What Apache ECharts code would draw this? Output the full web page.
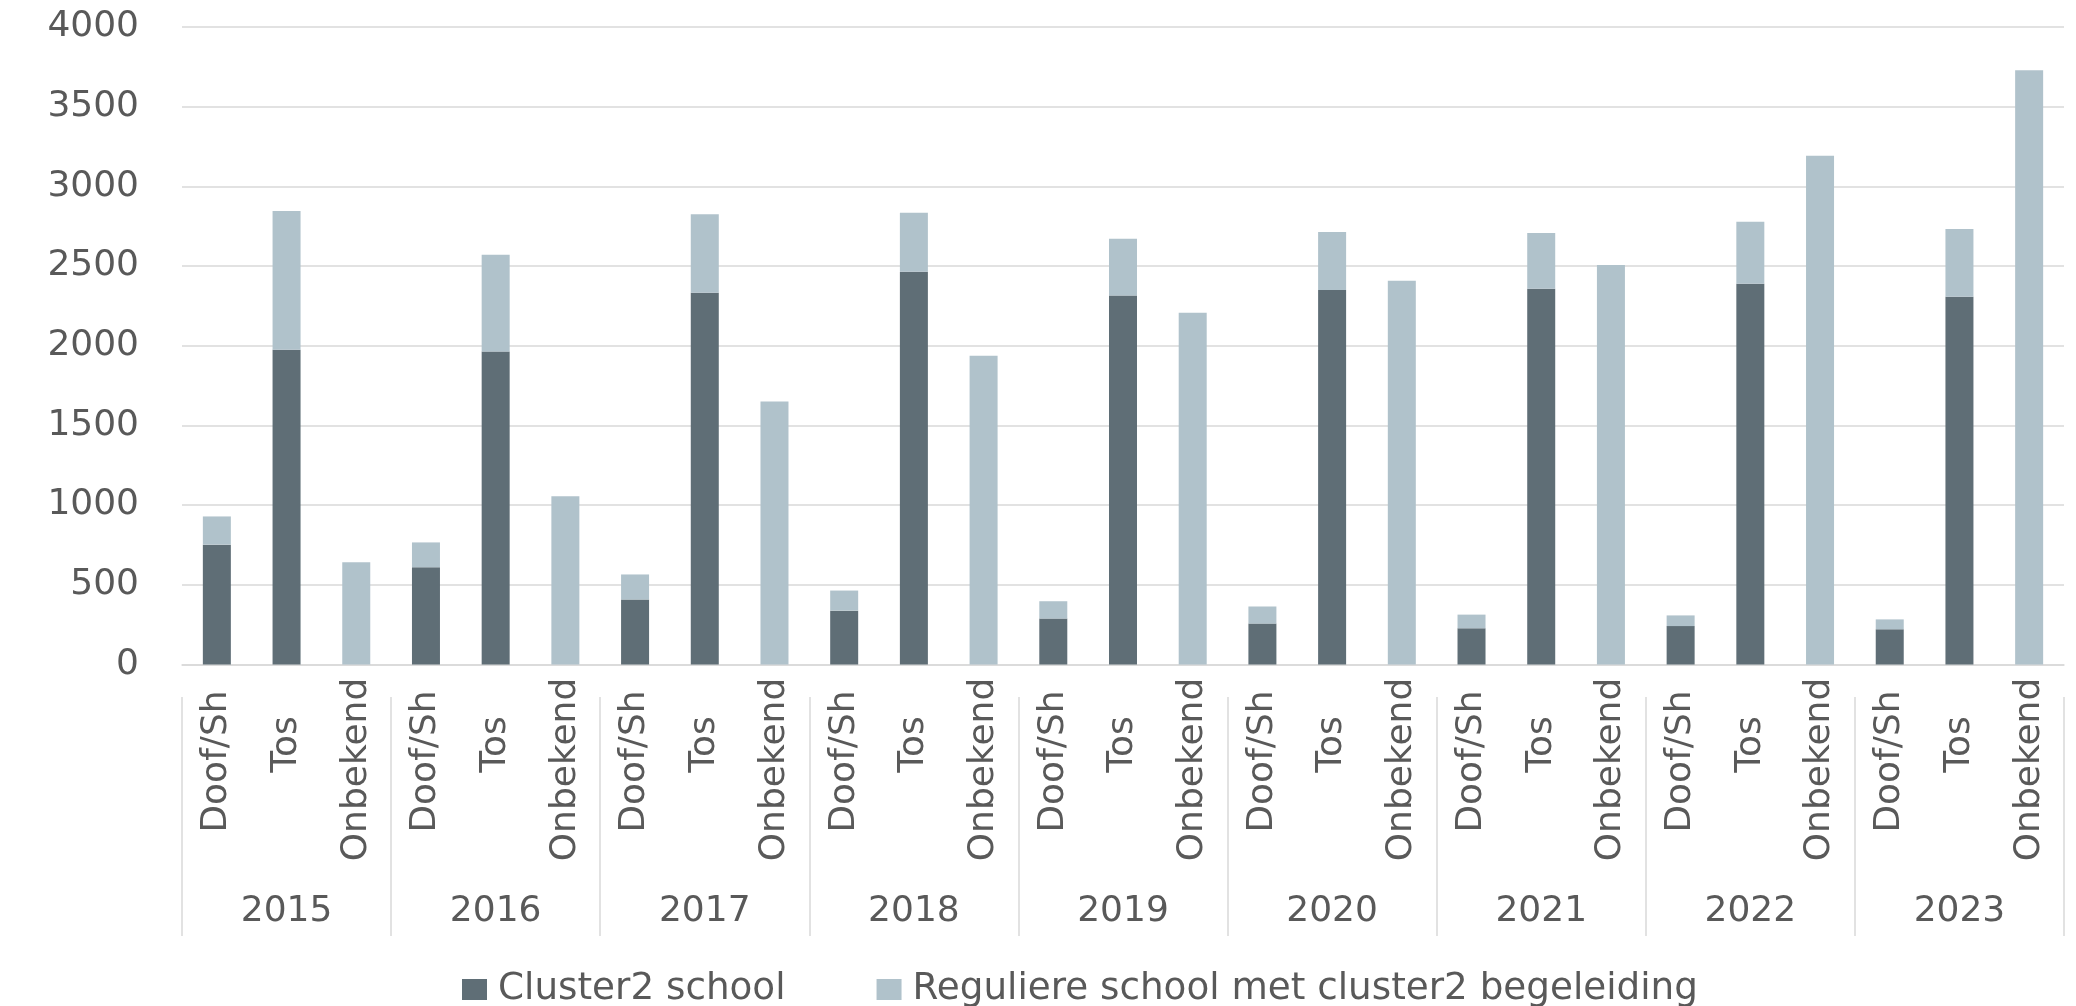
<!DOCTYPE html>
<html>
<head>
<meta charset="utf-8">
<script src="https://cdn.jsdelivr.net/npm/echarts@6/dist/echarts.min.js"></script>
<style>
html,body{margin:0;padding:0;background:#fff;}
#chart{width:2076px;height:1006px;}
</style>
</head>
<body>
<div id="chart"></div>
<script>
const years = ['2015','2016','2017','2018','2019','2020','2021','2022','2023'];
const types = ['Doof/Sh','Tos','Onbekend'];
const seriesNames = ['Cluster2 school','Reguliere school met cluster2 begeleiding'];
// per year: Doof/Sh, Tos, Onbekend
const cluster2School = [752,1975,0, 610,1964,0, 408,2333,0, 338,2464,0, 288,2316,0, 257,2350,0, 227,2358,0, 241,2389,0, 221,2308,0];
const reguliereSchool = [177,870,641, 156,607,1055, 157,492,1650, 126,370,1938, 109,355,2207, 107,363,2408, 86,350,2506, 67,389,3192, 62,425,3729];
const yTicks = [0,500,1000,1500,2000,2500,3000,3500,4000];

const categories = [];
years.forEach(y => types.forEach(t => categories.push(t)));

const FONT = 'DejaVu Sans';
const TXT = '#595959';
const GRID = '#d9d9d9';

const chart = echarts.init(document.getElementById('chart'));
chart.setOption({
  animation: false,
  grid: {left: 182, right: 12, top: 27, bottom: 341.5, containLabel: false},
  legend: {
    left: 462, top: 971, padding: 0, itemGap: 91,
    itemWidth: 25, itemHeight: 21,
    icon: 'rect',
    textStyle: {fontFamily: FONT, fontSize: 37.3, color: TXT, padding: [0,0,0,6]},
    data: seriesNames
  },
  xAxis: [
    {
      type: 'category', data: categories, position: 'bottom',
      axisLine: {show: true, lineStyle: {color: GRID, width: 1.5}},
      axisTick: {show: false},
      axisLabel: {
        interval: 0, rotate: 90, align: 'center', verticalAlign: 'middle', margin: 100,
        fontFamily: FONT, fontSize: 36, color: TXT,
        formatter: v => v === 'Tos' ? '{t|' + v + '}' : (v === 'Onbekend' ? '{o|' + v + '}' : '{d|' + v + '}'),
        rich: {
          t: {fontFamily: FONT, fontSize: 36, color: TXT, padding: [0,0,0,40]},
          o: {fontFamily: FONT, fontSize: 36, color: TXT, padding: [0,10,0,0]},
          d: {fontFamily: FONT, fontSize: 36, color: TXT, padding: [0,0,0,6]}
        }
      },
      splitLine: {show: false}
    },
    {
      type: 'category', data: years, position: 'bottom', offset: 271.5,
      axisLine: {show: false},
      axisTick: {show: true, inside: true, length: 239, interval: 0, lineStyle: {color: GRID, width: 1.5}},
      axisLabel: {inside: true, margin: 6, interval: 0, fontFamily: FONT, fontSize: 36, color: TXT},
      splitLine: {show: false}
    }
  ],
  yAxis: {
    type: 'value', min: yTicks[0], max: yTicks[yTicks.length - 1], interval: yTicks[1] - yTicks[0],
    axisLine: {show: false}, axisTick: {show: false},
    axisLabel: {fontFamily: FONT, fontSize: 36, color: TXT, margin: 43, formatter: v => String(v)},
    splitLine: {lineStyle: {color: GRID, width: 1.5}}
  },
  series: [
    {name: seriesNames[0], type: 'bar', stack: 'a', barWidth: 28, data: cluster2School, itemStyle: {color: '#5f6e76'}},
    {name: seriesNames[1], type: 'bar', stack: 'a', barWidth: 28, data: reguliereSchool, itemStyle: {color: '#b0c2cb'}}
  ]
});
</script>
</body>
</html>
